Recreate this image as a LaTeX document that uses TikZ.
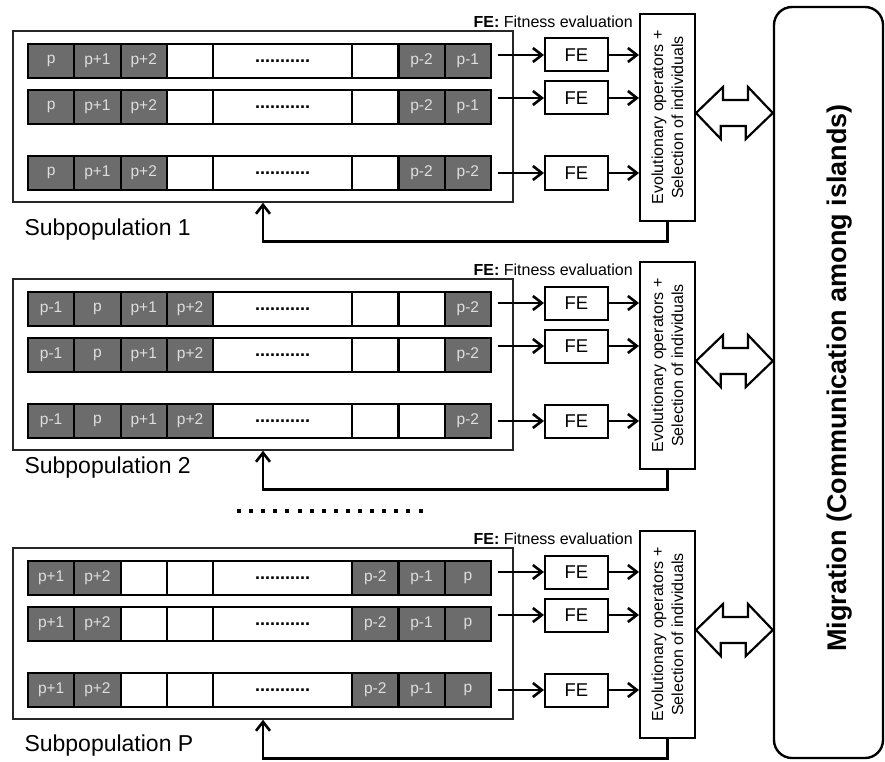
\documentclass[tikz,border=0pt]{standalone}
\usepackage{fontspec}
\setmainfont{Liberation Sans}
\usetikzlibrary{arrows.meta}

\definecolor{genefill}{RGB}{108,108,108}
\definecolor{genetext}{RGB}{222,222,222}
\newcommand\genedots{{\bfseries\fontsize{18}{18}\selectfont ...........}}

\tikzset{
	>={Straight Barb[length=9pt, width=14pt]},
	gene/.style={draw, line width=2.2pt, fill=genefill, text=genetext, minimum height=34, inner sep=0pt, font=\fontsize{15.5}{15.5}\selectfont},
	blank/.style={gene, fill=white, text=black},
	rowslot/.style={minimum width=463, minimum height=34, inner sep=0pt},
	popbox/.style={draw=black!85, line width=1.4pt, minimum width=500, minimum height=171, inner sep=0pt},
	febox/.style={draw, line width=2pt, minimum width=63, minimum height=33, inner sep=0pt, font=\fontsize{18.5}{18.5}\selectfont},
	evobox/.style={draw, line width=2pt, minimum width=55, minimum height=207, inner sep=0pt},
	flow/.style={->, line width=2.6pt},
	swaparrow/.style={draw, line width=2.2pt, line join=miter},
}

% one chromosome: name, top y, list of start/end/style/label
\newcommand\chromrow[3]{%
	\node[rowslot] (#1) at (259.5,{#2+17}) {};
	\foreach \s/\e/\k/\l in #3 {
		\node[\k, minimum width={(\e-\s)*46.3}] (#1c\s) at ({28+(\s+\e)*23.15},{#2+17}) {\l};
	}%
}
\newcommand\popA{0/1/gene/p, 1/2/gene/p+1, 2/3/gene/p+2, 3/4/blank/{}, 4/7/blank/\genedots, 7/8/blank/{}, 8/9/gene/p-2, 9/10/gene/p-1}
\newcommand\popAlast{0/1/gene/p, 1/2/gene/p+1, 2/3/gene/p+2, 3/4/blank/{}, 4/7/blank/\genedots, 7/8/blank/{}, 8/9/gene/p-2, 9/10/gene/p-2}
\newcommand\popB{0/1/gene/p-1, 1/2/gene/p, 2/3/gene/p+1, 3/4/gene/p+2, 4/7/blank/\genedots, 7/8/blank/{}, 8/9/blank/{}, 9/10/gene/p-2}
\newcommand\popC{0/1/gene/p+1, 1/2/gene/p+2, 2/3/blank/{}, 3/4/blank/{}, 4/7/blank/\genedots, 7/8/gene/p-2, 8/9/gene/p-1, 9/10/gene/p}

\begin{document}
\begin{tikzpicture}[x=1pt, y=-1pt]
	\useasboundingbox (0,0) rectangle (885,762);

	% Drawing the chromosomes of each island
	\chromrow{r11}{44}{\popA}
	\chromrow{r12}{90}{\popA}
	\chromrow{r13}{156}{\popAlast}
	\chromrow{r21}{292}{\popB}
	\chromrow{r22}{338}{\popB}
	\chromrow{r23}{404}{\popB}
	\chromrow{r31}{561}{\popC}
	\chromrow{r32}{607}{\popC}
	\chromrow{r33}{673}{\popC}

	% Migration among islands
	\node[draw, line width=2.4pt, rounded corners=18pt, minimum width=109, minimum height=751, inner sep=0pt] (mig) at (828.5,382.5) {};
	\node[rotate=90, font=\bfseries\fontsize{27}{27}\selectfont] (migt) at (840,378) {Migration (Communication among islands)};

	% Boxes, fitness evaluation and operators of each island
	\foreach \b/\top/\sub/\ly in {1/31/1/199, 2/279/2/189, 3/548/P/198} {
		\node[popbox] (box\b) at (263,{\top+85.5}) {};
		\node[anchor=west, font=\fontsize{23}{23}\selectfont] (sub\b) at (21,{\top+\ly}) {Subpopulation \sub};
		\node[anchor=east, inner sep=0pt, font=\fontsize{16}{16}\selectfont] (fel\b) at (633,{\top-9}) {\textbf{FE:} Fitness evaluation};
		\node[evobox] (evo\b) at (667.5,{\top+86.5}) {};
		\node[rotate=90, align=center, font=\fontsize{16}{20}\selectfont] (evot\b) at (evo\b) {Evolutionary operators +\\Selection of individuals};
		\foreach \f/\fy in {1/24, 2/67, 3/142} {
			\node[febox] (fe\b\f) at (576.5,{\top+\fy}) {FE};
			\draw[flow] ([xshift=7pt]r\b\f.east |- fe\b\f.west) -- (fe\b\f.west);
			\draw[flow] (fe\b\f.east) -- (fe\b\f.east -| evo\b.west);
		}
		\draw[flow] (evo\b.south) -- ++(0,19.5) -| (box\b.south);
		% hollow double arrow between operators and migration
		\coordinate (swap\b) at (evo\b.east |- 0,{\top+82});
		\draw[swaparrow] (swap\b) -- ++(27,-26) -- ++(0,13) -- ++(25,0) -- ++(0,-13) -- (swap\b -| mig.west)
			-- ++(-27,26) -- ++(0,-13) -- ++(-25,0) -- ++(0,13) -- cycle;
	}

	% Dots between the islands
	\draw[line width=4pt, dash pattern=on 4pt off 8.1pt] (237,511) -- (428,511);

\end{tikzpicture}
\end{document}
